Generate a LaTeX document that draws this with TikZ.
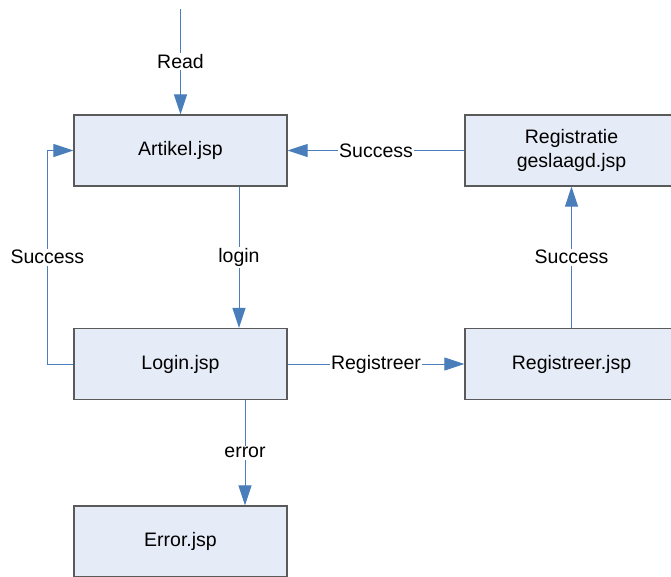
\documentclass[tikz,border=0pt]{standalone}
\usepackage{fontspec}
\setmainfont{Liberation Sans}
\usetikzlibrary{arrows.meta}
\definecolor{boxfill}{HTML}{E6ECF7}
\definecolor{boxline}{HTML}{5A5A5A}
\definecolor{conn}{HTML}{4A7EBB}
\tikzset{
  x=1pt, y=1pt,
  pagebox/.style={draw=boxline, line width=1.3pt, fill=boxfill, minimum width=213pt, minimum height=71pt, inner sep=0pt, align=center, font=\fontsize{19.5}{23.5}\selectfont},
  arr/.style={draw=conn, line width=1pt, -{Triangle[length=20pt,width=13pt]}},
  plain/.style={draw=conn, line width=1pt},
  lbl/.style={fill=white, inner sep=1.5pt, text=black, font=\fontsize{19.5}{23.5}\selectfont}
}
\begin{document}
\begin{tikzpicture}
\path[use as bounding box] (0,0) rectangle (671,-576);
\clip (0,0) rectangle (671,-576);
\node[pagebox] (artikel) at (180.5,-150.5) {Artikel.jsp};
\node[pagebox] (login) at (180.5,-364) {Login.jsp};
\node[pagebox] (error) at (180.5,-541.5) {Error.jsp};
\node[pagebox] (regok) at (571.5,-150.5) {Registratie\\geslaagd.jsp};
\node[pagebox] (reg) at (571.5,-364) {Registreer.jsp};
\coordinate (readstart) at (180.5,-9);
\draw[arr] (readstart) -- node[lbl]{Read} (artikel.north);
\draw[arr] ([xshift=58.5pt]artikel.south) -- node[lbl]{login} ([xshift=58.5pt]login.north);
\draw[arr] ([xshift=64.5pt]login.south) -- node[lbl]{error} ([xshift=64.5pt]error.north);
\draw[arr] (login.west) -- ++(-26,0) |- node[lbl,pos=0.25]{Success} (artikel.west);
\draw[arr] (login.east) -- node[lbl]{Registreer} (reg.west);
\draw[arr] (reg.north) -- node[lbl]{Success} (regok.south);
\draw[arr] (regok.west) -- node[lbl]{Success} (artikel.east);
\end{tikzpicture}
\end{document}
